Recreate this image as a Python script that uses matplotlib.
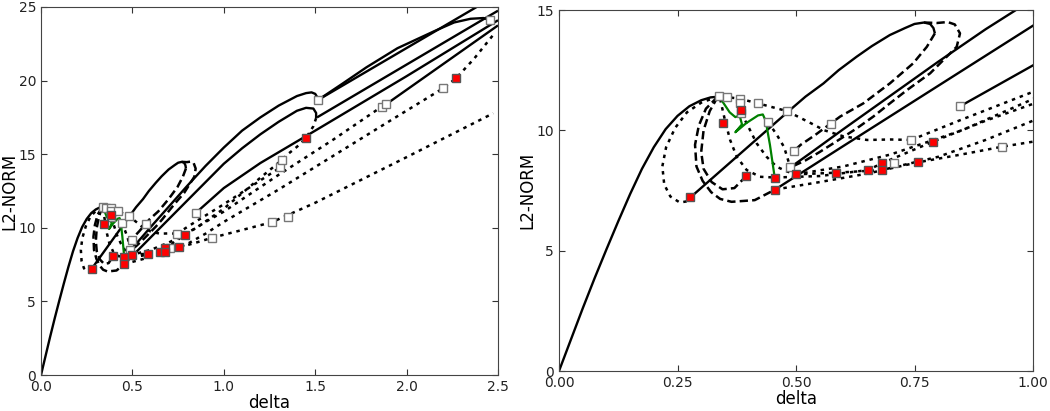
import numpy as np
import matplotlib
matplotlib.use("Agg")
import matplotlib.pyplot as plt

plt.rcParams['lines.scale_dashes'] = False

# ---- branches: (delta, L2-norm) ----
main_curve = [(0, 0), (0.025, 1.3), (0.05, 2.6), (0.075, 3.85), (0.1, 5.05), (0.125, 6.22),
              (0.15, 7.35), (0.175, 8.4), (0.2, 9.3), (0.225, 10.05), (0.25, 10.6),
              (0.275, 11.0), (0.3, 11.25), (0.32, 11.37), (0.338, 11.4)]

solid_lobe1 = [(0.277, 7.21), (0.487, 10.84), (0.52, 11.4), (0.558, 11.95), (0.59, 12.5),
               (0.628, 13.06), (0.66, 13.5), (0.698, 13.96), (0.73, 14.25), (0.75, 14.42),
               (0.77, 14.48), (0.783, 14.42), (0.79, 14.25), (0.793, 14.03)]
solid_arc1 = [(0.488, 8.46), (0.53, 9.05), (0.6, 10.05), (0.7, 11.45), (0.8, 12.85), (0.9, 14.2),
              (1.0, 15.45), (1.1, 16.6), (1.2, 17.5), (1.3, 18.3), (1.4, 18.95), (1.45, 19.15),
              (1.48, 19.2), (1.5, 19.1), (1.51, 18.9), (1.515, 18.68)]
solid_arc2 = [(0.456, 7.54), (0.6, 9.35), (0.8, 11.85), (1.0, 14.35), (1.1, 15.4), (1.2, 16.35),
              (1.3, 17.2), (1.4, 17.95), (1.45, 18.15), (1.49, 18.1), (1.505, 17.8), (1.505, 17.45)]
solid_c = [(0.847, 11.01), (1.0, 12.7), (1.2, 14.4), (1.5, 16.6), (2.0, 20.3), (2.5, 24.1)]
solid_top = [(1.515, 18.68), (2.383, 25.0)]
solid_top_arc = [(1.515, 18.68), (1.65, 19.8), (1.78, 20.9), (1.95, 22.2), (2.15, 23.35),
                 (2.26, 23.95), (2.35, 24.2), (2.42, 24.25), (2.456, 24.1)]
solid_fold2 = [(1.51, 17.5), (2.5, 24.75)]
solid_e = [(1.89, 18.41), (2.5, 23.75)]

dashed_loop1 = [(0.335, 11.4), (0.30, 11.15), (0.27, 10.75), (0.245, 10.1), (0.226, 9.3),
                (0.218, 8.5), (0.222, 7.75), (0.235, 7.25), (0.255, 7.0), (0.27, 7.05), (0.277, 7.21)]
dashed_loop2 = [(0.335, 11.4), (0.31, 10.9), (0.295, 10.2), (0.287, 9.4), (0.29, 8.5),
                (0.303, 7.9), (0.321, 7.43), (0.34, 7.15), (0.364, 7.03), (0.413, 7.1), (0.456, 7.54)]
dashed_loop3 = [(0.335, 11.4), (0.318, 10.8), (0.305, 10.0), (0.3, 9.1), (0.305, 8.4),
                (0.322, 7.85), (0.345, 7.55), (0.37, 7.6), (0.395, 8.1)]
dashed_loop4 = [(0.34, 11.3), (0.35, 10.43), (0.361, 9.6), (0.375, 8.9), (0.396, 8.35),
                (0.424, 8.07), (0.456, 8.04)]
dashed_loop5 = [(0.385, 10.71), (0.403, 10.01), (0.417, 9.46), (0.438, 8.9), (0.459, 8.49),
                (0.48, 8.3), (0.499, 8.17)]
dashed_upper = [(0.345, 11.4), (0.38, 11.32), (0.42, 11.12), (0.481, 10.8), (0.532, 10.29),
                (0.56, 10.0), (0.6, 9.75), (0.65, 9.6), (0.7, 9.62), (0.743, 9.6)]
dashed_inner = [(0.793, 14.03), (0.776, 13.47), (0.747, 12.78), (0.698, 11.95), (0.642, 11.12),
                (0.593, 10.57), (0.573, 10.28), (0.54, 9.8), (0.51, 9.4), (0.496, 9.15)]
dashed_outer = [(0.77, 14.48), (0.797, 14.46), (0.82, 14.5), (0.835, 14.4), (0.846, 14.03),
                (0.839, 13.47), (0.818, 13.06), (0.783, 12.37), (0.734, 11.67), (0.698, 11.12),
                (0.663, 10.57), (0.628, 10.08), (0.59, 9.6), (0.55, 9.1), (0.52, 8.75), (0.488, 8.46)]
dashed_back2 = [(1.505, 17.45), (1.49, 16.9), (1.47, 16.5), (1.448, 16.08), (1.4, 15.5),
                (1.35, 15.0), (1.317, 14.6), (1.2, 13.4), (1.0, 11.3), (0.85, 10.0), (0.7, 9.0),
                (0.6, 8.5), (0.499, 8.17)]
dashed_mid = [(0.441, 10.35), (0.46, 9.8), (0.475, 9.3), (0.488, 8.46)]

dotted_f1 = [(0.456, 7.54), (0.55, 7.85), (0.65, 8.2), (0.757, 8.67), (0.85, 9.0), (0.935, 9.32),
             (1.1, 9.85), (1.263, 10.38), (1.5, 11.7), (2.0, 14.8), (2.474, 17.78)]
dotted_f2 = [(0.499, 8.17), (0.585, 8.24), (0.681, 8.35), (0.8, 8.9), (0.9, 9.6), (1.0, 10.4),
             (1.3, 12.6), (1.6, 14.9), (1.9, 17.2), (2.2, 19.48), (2.27, 20.15), (2.37, 21.5),
             (2.48, 23.2)]
dotted_f3 = [(0.456, 8.04), (0.55, 8.1), (0.652, 8.35), (0.681, 8.63), (0.789, 9.53), (0.9, 10.4),
             (1.0, 11.1), (1.3, 13.6), (1.6, 16.0), (1.864, 18.23)]
dotted_f4 = [(0.743, 9.6), (0.85, 10.45), (1.0, 11.6), (1.31, 14.11)]

green_path = [(0.338, 11.4), (0.36, 10.75), (0.372, 10.55), (0.381, 10.62), (0.386, 10.25),
              (0.372, 9.92), (0.38, 10.05), (0.395, 10.3), (0.42, 10.62), (0.43, 10.66),
              (0.436, 10.4), (0.445, 9.4), (0.455, 8.05)]

red_delta = [0.277, 0.345, 0.383, 0.395, 0.456, 0.456, 0.499, 0.585, 0.652, 0.681, 0.681,
             0.757, 0.789, 1.448, 2.27]
red_norm = [7.21, 10.29, 10.85, 8.1, 8.04, 7.54, 8.17, 8.24, 8.35, 8.63, 8.35,
            8.67, 9.53, 16.08, 20.15]
white_delta = [0.338, 0.354, 0.381, 0.381, 0.385, 0.42, 0.441, 0.481, 0.573, 0.496, 0.488,
               0.706, 0.743, 0.847, 0.935, 1.263, 1.35, 1.31, 1.317, 1.515, 1.864, 1.89,
               2.2, 2.456]
white_norm = [11.43, 11.37, 11.32, 11.12, 10.71, 11.12, 10.35, 10.8, 10.28, 9.15, 8.46,
              8.65, 9.6, 11.01, 9.32, 10.38, 10.71, 14.11, 14.6, 18.68, 18.23, 18.41,
              19.48, 24.1]

solid_branches = [main_curve, solid_lobe1, solid_arc1, solid_arc2, solid_c, solid_top,
                  solid_top_arc, solid_fold2, solid_e]
dashed_branches = [dashed_loop2, dashed_loop3, dashed_inner, dashed_outer]
dotted_branches = [dashed_loop1, dashed_loop4, dashed_loop5, dashed_upper, dashed_back2,
                   dashed_mid, dotted_f1, dotted_f2, dotted_f3, dotted_f4]


def draw(ax):
    for br in solid_branches:
        x, y = zip(*br)
        ax.plot(x, y, color='black', lw=1.7, solid_capstyle='butt')
    for br in dashed_branches:
        x, y = zip(*br)
        ax.plot(x, y, color='black', lw=1.8, linestyle=(0, (6, 3)))
    for br in dotted_branches:
        x, y = zip(*br)
        ax.plot(x, y, color='black', lw=1.8, linestyle=(0, (2.5, 3.5)))
    x, y = zip(*green_path)
    ax.plot(x, y, color='#008000', lw=1.6)
    ax.plot(white_delta, white_norm, 's', ms=6, mfc='white', mec='#777777', mew=1)
    ax.plot(red_delta, red_norm, 's', ms=6, mfc='red', mec='#555555', mew=1)
    ax.tick_params(direction='in', top=True, right=True, length=4, labelsize=10,
                   colors='#333333', labelcolor='#222222')
    ax.set_xlabel('delta', fontsize=12, labelpad=0)
    ax.set_ylabel('L2-NORM', fontsize=12, labelpad=0)
    for s in ax.spines.values():
        s.set_color('#444444')


fig = plt.figure(figsize=(10.5, 4.11), dpi=100)
ax1 = fig.add_axes([41 / 1050, 36 / 411, 457 / 1050, 368 / 411])
ax2 = fig.add_axes([559 / 1050, 40 / 411, 474 / 1050, 361 / 411])

draw(ax1)
ax1.set_xlim(0, 2.5)
ax1.set_ylim(0, 25)
ax1.set_xticks([0.0, 0.5, 1.0, 1.5, 2.0, 2.5])
ax1.set_xticklabels(['0.0', '0.5', '1.0', '1.5', '2.0', '2.5'])
ax1.set_yticks([0, 5, 10, 15, 20, 25])

draw(ax2)
ax2.set_xlim(0, 1.0)
ax2.set_ylim(0, 15)
ax2.set_xticks([0.0, 0.25, 0.5, 0.75, 1.0])
ax2.set_xticklabels(['0.00', '0.25', '0.50', '0.75', '1.00'])
ax2.set_yticks([0, 5, 10, 15])

fig.savefig('out.png', dpi=100)
